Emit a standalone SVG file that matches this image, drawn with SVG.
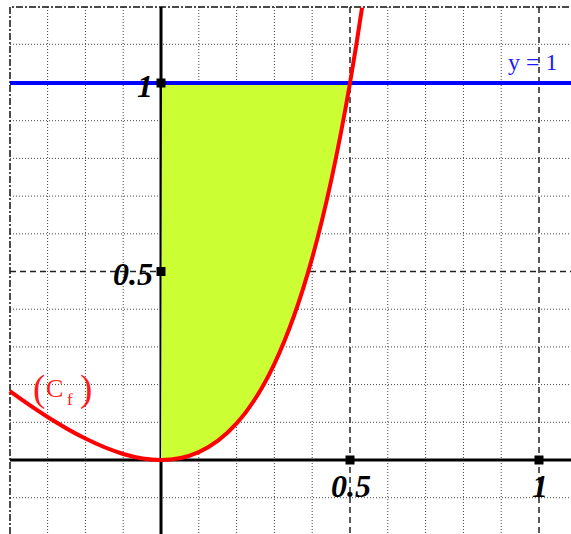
<svg xmlns="http://www.w3.org/2000/svg" width="571" height="534" viewBox="0 0 571 534">
<style>
.dot{stroke:#444;stroke-width:1;stroke-dasharray:1 2;fill:none}
.dash{stroke:#222;stroke-width:1.5;stroke-dasharray:6 4;fill:none}
.border{stroke:#111;stroke-width:1.5;stroke-dasharray:7 2 2 2;fill:none}
.axis{stroke:#000;stroke-width:3;fill:none}
.num{font-family:"Liberation Serif","Times New Roman",serif;font-weight:bold;font-style:italic;font-size:32px;fill:#000}
.mk{fill:#000}
</style>
<rect width="571" height="534" fill="#fff"/>
<g id="grid">
<path class="dot" d="M47.6,7V534M85.4,7V534M123.2,7V534M198.8,7V534M236.6,7V534M274.4,7V534M312.2,7V534M387.8,7V534M425.6,7V534M463.4,7V534M501.2,7V534"/>
<path class="dot" d="M10,44.3H571M10,120.7H571M10,158.4H571M10,196.1H571M10,233.8H571M10,309.2H571M10,346.9H571M10,384.6H571M10,422.3H571M10,497.7H571"/>
<path class="dash" d="M350,7V534M539,7V534M10,271.5H571M10,83H571"/>
<path class="border" d="M10,534V7H571"/>
</g>
<g id="axes">
<path class="axis" d="M10,460H571M161,7V534"/>
</g>
<g id="area">
<path fill="#ccff33" d="M161,460C173.6,460 186.2,457.74 198.8,452.11C211.4,446.48 224,437.49 236.6,423.45C249.2,409.41 261.8,390.36 274.4,363.79C287,337.22 299.6,303.15 312.2,257.88C318.5,235.24 324.8,209.79 331.1,180.87C337.4,151.95 343.7,119.59 350,83L162,83Z"/>
</g>
<g id="line-y1">
<path stroke="#0000ff" stroke-width="4" fill="none" d="M10,83H571"/>
<text x="508" y="70" font-family="Liberation Serif, Times New Roman, serif" font-size="24" fill="#1a1aff">y = 1</text>
</g>
<g id="curve">
<path stroke="#ff0000" stroke-width="4" fill="none" stroke-linejoin="round" d="M9.8,391.12C22.4,400.26 35,408.95 47.6,416.95C60.2,424.95 72.8,432.27 85.4,438.58C98,444.89 110.6,450.18 123.2,453.96C135.8,457.74 148.4,460 161,460C173.6,460 186.2,457.74 198.8,452.11C211.4,446.48 224,437.49 236.6,423.45C249.2,409.41 261.8,390.36 274.4,363.79C287,337.22 299.6,303.15 312.2,257.88C318.5,235.24 324.8,209.79 331.1,180.87C337.4,151.95 343.7,119.59 350,83C354.02,59.66 358.04,34.62 362.06,7.6"/>
<g font-family="Liberation Serif, Times New Roman, serif" fill="#ff1a1a">
<text x="33" y="400.7" font-size="37">(</text>
<text x="46" y="397" font-size="26">C</text>
<text x="67" y="405" font-size="17">f</text>
<text x="80" y="400.7" font-size="37">)</text>
</g>
</g>
<g id="markers">
<rect class="mk" x="156.5" y="78.5" width="9" height="9"/>
<rect class="mk" x="156.5" y="267" width="9" height="9"/>
<rect class="mk" x="345.5" y="455.5" width="9" height="9"/>
<rect class="mk" x="534.5" y="455.5" width="9" height="9"/>
</g>
<g id="labels">
<text class="num" x="153" y="97" text-anchor="end">1</text>
<text class="num" x="153" y="285" text-anchor="end">0.5</text>
<text class="num" x="351" y="497" text-anchor="middle">0.5</text>
<text class="num" x="540" y="497" text-anchor="middle">1</text>
</g>
</svg>
